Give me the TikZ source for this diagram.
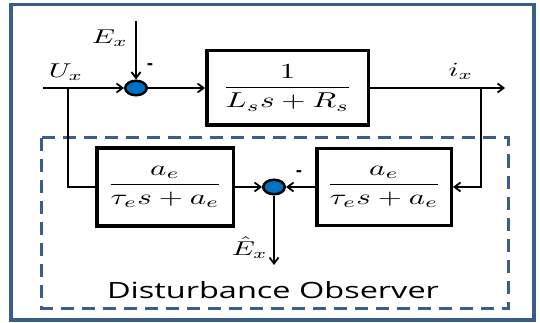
\documentclass[tikz,border=0pt]{standalone}
\usepackage{amsmath}
\usepackage{graphicx}
\usepackage{fontspec}
\newfontfamily\obsfont{Open Sans}
\usetikzlibrary{arrows.meta, shapes.geometric}
\definecolor{framebl}{RGB}{58,94,140}
\definecolor{dotbl}{RGB}{0,112,192}
\newcommand{\hstretch}[1]{\scalebox{1.45}[1]{#1}}
\newcommand{\bigmath}[1]{\scalebox{3.1}[2.15]{$#1$}}
\newcommand{\lblmath}[1]{\scalebox{2.9}[2.0]{$#1$}}

\begin{document}
\begin{tikzpicture}[
  x=1pt, y=-1pt,
  blk/.style={draw, line width=3.5pt, fill=white, inner sep=0pt},
  sumdot/.style={draw, ellipse, line width=2.5pt, fill=dotbl,
                 minimum width=21.5pt, minimum height=14.5pt, inner sep=0pt},
  lbl/.style={inner sep=0pt},
  sgn/.style={font=\obsfont\bfseries\fontsize{18}{20}\selectfont, inner sep=0pt},
  arr/.style={-{Straight Barb[length=6pt, width=9pt]}, line width=1.8pt},
  wire/.style={line width=1.8pt}
]
  \useasboundingbox (0,0) rectangle (540,323);
  \draw[framebl, line width=3.5pt] (11,4.5) rectangle (534,320);
  \draw[framebl, line width=3pt, dash pattern=on 13pt off 8pt] (41.5,138) rectangle (508,308);

  \node[sumdot] (s1) at (136,88) {};
  \node[blk, minimum width=161.5pt, minimum height=74.5pt] (plant) at (287.5,88)
       {\bigmath{\dfrac{1}{L_s s + R_s}}};
  \node[blk, minimum width=136.5pt, minimum height=77.5pt] (q1) at (165,187)
       {\bigmath{\dfrac{a_e}{\tau_e s + a_e}}};
  \node[blk, minimum width=134.5pt, minimum height=76.5pt] (q2) at (384,187)
       {\bigmath{\dfrac{a_e}{\tau_e s + a_e}}};
  \node[sumdot] (s2) at (274,187) {};

  \coordinate (in) at (43,88);
  \coordinate (split) at (68,88);
  \coordinate (etop) at (136,21);
  \coordinate (out) at (505,88);
  \coordinate (tap) at (481,88);
  \coordinate (ehat) at (274,265);

  \node[lbl] (ex) at (110,38) {\lblmath{E_x}};
  \node[lbl] (ux) at (66,72) {\lblmath{U_x}};
  \node[lbl] (ix) at (461,71) {\lblmath{i_x}};
  \node[lbl, anchor=east] (eh) at (268,248) {\lblmath{\hat{E}_x}};
  \node[sgn] (m1) at (150,67) {-};
  \node[sgn] (m2) at (299,174) {-};
  \node[anchor=base, inner sep=0pt, font=\obsfont\fontsize{22.4}{26}\selectfont] (obs) at (273,298)
       {\hstretch{Disturbance Observer}};

  \draw[arr] (in) -- (s1);
  \draw[arr] (etop) -- (s1);
  \draw[arr] (s1) -- (plant);
  \draw[arr] (plant) -- (out);
  \draw[wire] (split) |- (q1.west);
  \draw[arr] (tap) |- (q2.east);
  \draw[arr] (q2) -- (s2);
  \draw[arr] (q1) -- (s2);
  \draw[arr] (s2) -- (ehat);
\end{tikzpicture}
\end{document}
